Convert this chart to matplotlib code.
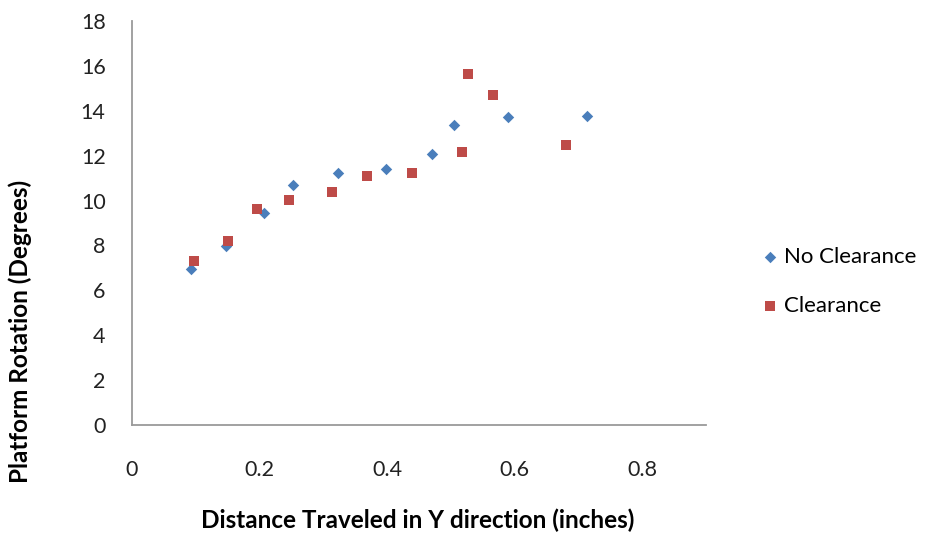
import matplotlib
matplotlib.use("Agg")
import matplotlib.pyplot as plt

# Distance travelled in Y (inches) and platform rotation (degrees)
no_clear_x = [0.092, 0.148, 0.207, 0.253, 0.323, 0.399, 0.471, 0.505, 0.590, 0.713]
no_clear_y = [6.94, 7.99, 9.43, 10.71, 11.22, 11.42, 12.09, 13.37, 13.74, 13.79]

clear_x = [0.098, 0.150, 0.196, 0.247, 0.313, 0.368, 0.440, 0.518, 0.527, 0.567, 0.680]
clear_y = [7.30, 8.21, 9.64, 10.04, 10.38, 11.10, 11.23, 12.17, 15.63, 14.72, 12.49]

x_ticks = [0, 0.2, 0.4, 0.6, 0.8]
x_tick_labels = ["0", "0.2", "0.4", "0.6", "0.8"]
y_ticks = list(range(0, 19, 2))

plt.rcParams['font.family'] = ['Lato', 'DejaVu Sans']

fig = plt.figure(figsize=(9.30, 5.35), dpi=100)
ax = fig.add_axes([0.1419, 0.2056, 0.617, 0.755])

ax.scatter(no_clear_x, no_clear_y, marker='D', s=34, color='#4A7EBB',
           linewidths=0, label='No Clearance', zorder=3)
ax.scatter(clear_x, clear_y, marker='s', s=50, color='#BE4B48',
           linewidths=0, label='Clearance', zorder=3)

ax.set_xlim(0, 0.9)
ax.set_ylim(0, 18)
ax.set_xticks(x_ticks)
ax.set_xticklabels(x_tick_labels)
ax.set_yticks(y_ticks)
ax.tick_params(length=0, labelsize=15.5, colors='#222222')
ax.tick_params(axis='x', pad=25)
ax.tick_params(axis='y', pad=19)

for side in ('top', 'right'):
    ax.spines[side].set_visible(False)
for side in ('left', 'bottom'):
    ax.spines[side].set_color('#9A9A9A')
    ax.spines[side].set_linewidth(1.3)

fig.text(418 / 930, 1 - 520 / 535, 'Distance Traveled in Y direction (inches)',
         fontsize=17.5, fontweight='bold', ha='center', va='center')
fig.text(20 / 930, 1 - 331 / 535, 'Platform Rotation (Degrees)',
         fontsize=17.5, fontweight='bold', ha='center', va='center', rotation=90)

fig.legend(loc='upper left', bbox_to_anchor=(0.806, 0.555), frameon=False,
           fontsize=16, handletextpad=0.15, labelspacing=1.32,
           handlelength=1.0, borderaxespad=0)

fig.savefig('out.png', dpi=100)
